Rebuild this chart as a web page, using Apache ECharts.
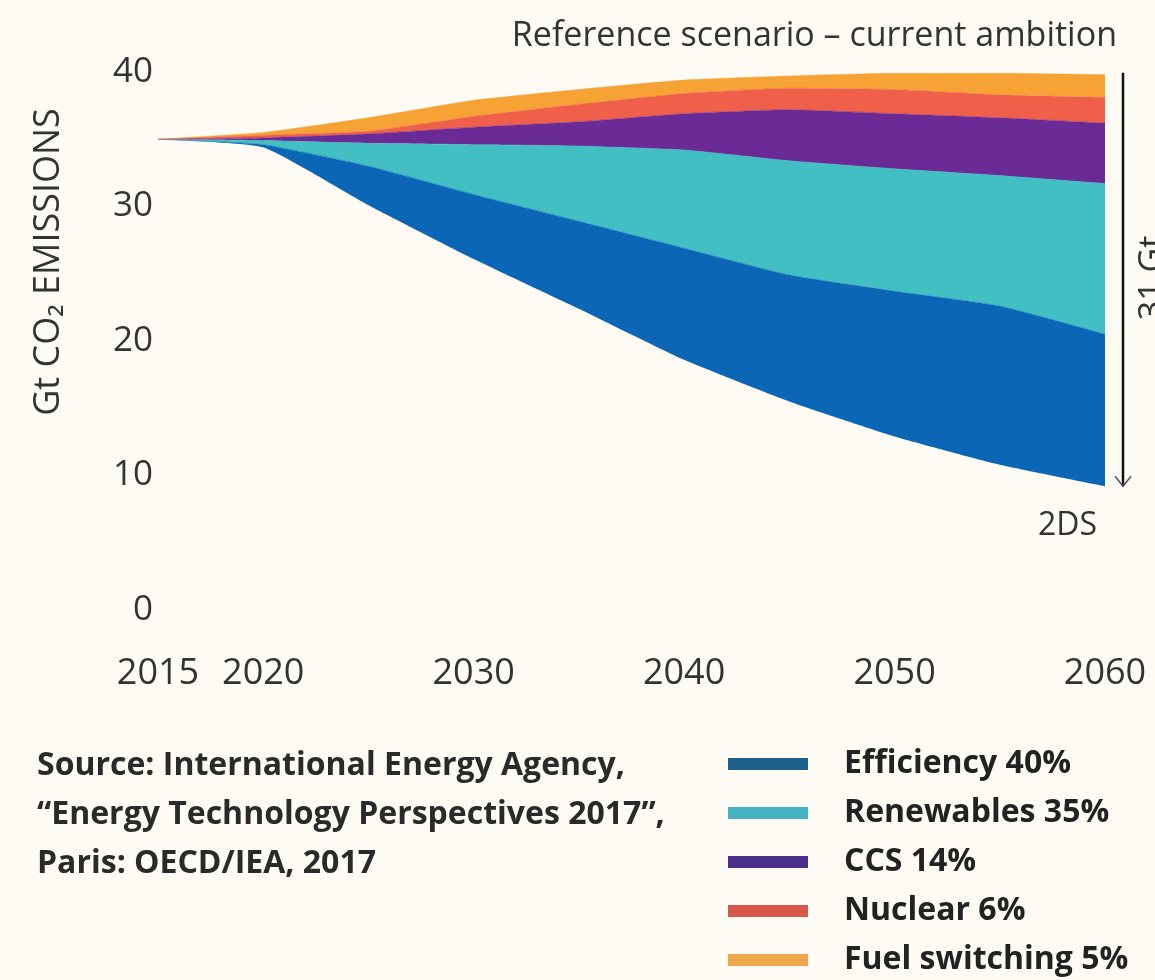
<!DOCTYPE html>
<html>
<head>
<meta charset="utf-8">
<script src="https://cdn.jsdelivr.net/npm/echarts@6/dist/echarts.min.js"></script>
<style>
html,body{margin:0;padding:0;background:#FDFBF4;}
#c{width:1155px;height:980px;}
</style>
</head>
<body>
<div id="c"></div>
<script>
var years = ['2015', '2020', '2025', '2030', '2035', '2040', '2045', '2050', '2055', '2060'];
var scenario2DS   = [35.0, 34.4, 30.1, 26.1, 22.4, 18.6, 15.5, 12.9, 10.8, 9.2];
var efficiency    = [0, 0.2, 2.9, 4.8, 6.5, 8.3, 9.4, 10.8, 11.8, 11.3];
var renewables    = [0, 0.3, 1.7, 3.7, 5.6, 7.3, 8.5, 9.1, 9.7, 11.2];
var ccs           = [0, 0.2, 0.7, 1.3, 1.8, 2.7, 3.8, 4.1, 4.3, 4.5];
var nuclear       = [0, 0.2, 0.2, 0.8, 1.3, 1.5, 1.6, 1.8, 1.7, 1.9];
var fuelSwitching = [0, 0.2, 1.0, 1.2, 1.1, 1.0, 0.9, 1.2, 1.6, 1.7];
var xTickLabels = ['2015', '2020', '2030', '2040', '2050', '2060'];
var legendNames = ['Efficiency 40%', 'Renewables 35%', 'CCS 14%', 'Nuclear 6%', 'Fuel switching 5%'];

var areaColors = ['#0B67B5', '#41BFC3', '#6A2B97', '#EF5F49', '#F7A234'];
var swatchColors = ['#1F5E89', '#45B3C0', '#4B2E8A', '#D9564B', '#EFA84A'];
var seriesData = [efficiency, renewables, ccs, nuclear, fuelSwitching];

var FONT = '"Open Sans", "Noto Sans", sans-serif';
var TXT = '#333333';

var series = [{
  name: '2DS',
  type: 'line',
  stack: 'total',
  data: scenario2DS,
  symbol: 'none',
  smooth: 0.15,
  lineStyle: { width: 0, color: 'rgba(0,0,0,0)' },
  itemStyle: { color: 'rgba(0,0,0,0)' }
}];
seriesData.forEach(function(arr, i){
  series.push({
    name: legendNames[i],
    type: 'line',
    stack: 'total',
    data: arr,
    symbol: 'none',
    smooth: 0.15,
    lineStyle: { width: 0.5, color: areaColors[i] },
    itemStyle: { color: swatchColors[i] },
    areaStyle: { color: areaColors[i], opacity: 1 }
  });
});

function makeLegend(from, to, top){
  return {
    orient: 'vertical',
    left: 728,
    top: top,
    padding: 0,
    itemWidth: 80,
    itemHeight: 12,
    itemGap: 17,
    icon: 'rect',
    data: legendNames.slice(from, to).map(function(n, k){ return { name: n, itemStyle: { color: swatchColors[from + k] } }; }),
    textStyle: {
      fontFamily: FONT,
      fontSize: 32,
      fontWeight: 700,
      color: '#222',
      padding: [0, 0, 0, 31]
    },
    selectedMode: false
  };
}

var chart = echarts.init(document.getElementById('c'), null, { renderer: 'canvas' });

chart.setOption({
  backgroundColor: '#FDFBF4',
  animation: false,
  grid: { left: 158, right: 50, top: 72, bottom: 370, containLabel: false },
  xAxis: {
    type: 'category',
    data: years,
    boundaryGap: false,
    axisLine: { show: false }, axisTick: { show: false }, splitLine: { show: false },
    axisLabel: {
      margin: 46,
      interval: 0,
      color: TXT,
      fontFamily: FONT,
      fontSize: 36,
      formatter: function(v){ return xTickLabels.indexOf(v) >= 0 ? v : ''; }
    }
  },
  yAxis: {
    type: 'value',
    min: 0, max: 40, interval: 10,
    axisLine: { show: false }, axisTick: { show: false }, splitLine: { show: false },
    axisLabel: {
      margin: 5,
      color: TXT,
      fontFamily: FONT,
      fontSize: 35
    }
  },
  legend: [makeLegend(0, 3, 748), makeLegend(3, 5, 895)],
  series: series
});

// annotations positioned from data coordinates
var n = years.length - 1;
var refTop = scenario2DS[n] + efficiency[n] + renewables[n] + ccs[n] + nuclear[n] + fuelSwitching[n];
var topPt = chart.convertToPixel({ gridIndex: 0 }, [n, refTop]);
var botPt = chart.convertToPixel({ gridIndex: 0 }, [n, scenario2DS[n]]);
var ax = topPt[0] + 18;

chart.setOption({
  graphic: [
    {
      type: 'text',
      right: 38, top: 19,
      style: { text: 'Reference scenario \u2013 current ambition', fontFamily: FONT, fontSize: 34, fill: TXT }
    },
    {
      type: 'text',
      x: botPt[0] - 8, y: botPt[1] + 24,
      style: { text: '2DS', fontFamily: FONT, fontSize: 32, fill: TXT, align: 'right', verticalAlign: 'top' }
    },
    {
      type: 'line',
      shape: { x1: ax, y1: topPt[1] - 2, x2: ax, y2: botPt[1] },
      style: { stroke: '#111', lineWidth: 2.5 }
    },
    {
      type: 'polyline',
      shape: { points: [[ax - 8, botPt[1] - 10], [ax, botPt[1]], [ax + 8, botPt[1] - 10]] },
      style: { stroke: '#555', lineWidth: 1.5, fill: null }
    },
    {
      type: 'text',
      x: ax + 30, y: 278,
      rotation: Math.PI / 2,
      style: { text: '31 Gt', fontFamily: FONT, fontSize: 34, fill: TXT, align: 'center', verticalAlign: 'middle' }
    },
    {
      type: 'text',
      x: 49, y: 262,
      rotation: Math.PI / 2,
      style: { text: 'Gt CO\u2082 EMISSIONS', fontFamily: FONT, fontSize: 36, fill: TXT, align: 'center', verticalAlign: 'middle' }
    },
    {
      type: 'text',
      left: 37, top: 741,
      style: {
        text: 'Source: International Energy Agency,\n\u201CEnergy Technology Perspectives 2017\u201D,\nParis: OECD/IEA, 2017',
        fontFamily: FONT, fontSize: 32, fontWeight: 700, fill: '#2a2a2a', lineHeight: 49
      }
    }
  ]
});
</script>
</body>
</html>
